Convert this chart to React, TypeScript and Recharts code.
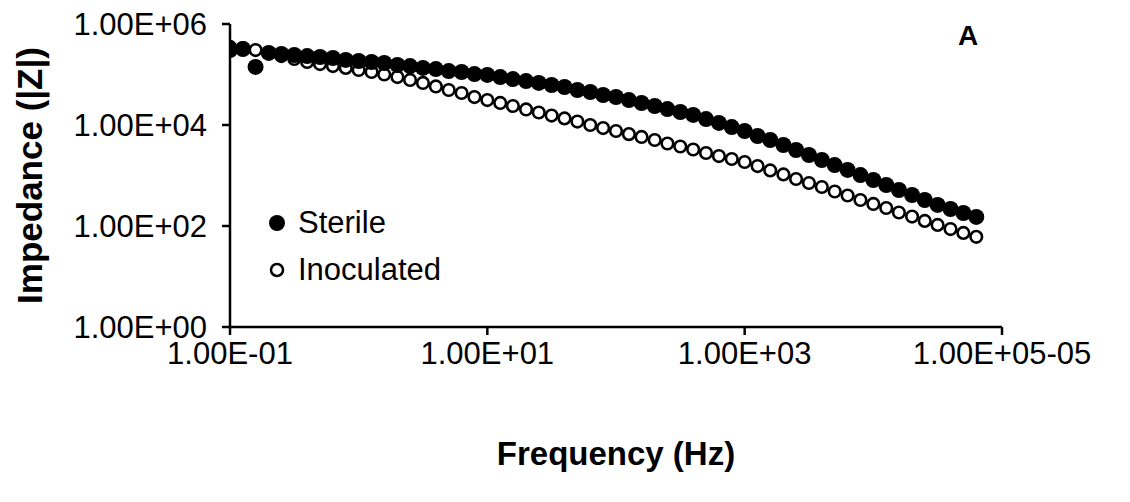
import React from 'react';
import { ScatterChart, Scatter, XAxis, YAxis } from 'recharts';

// frequency sweep, 10 points per decade
const freqHz = [
  0.1, 0.126, 0.158, 0.2, 0.251, 0.316, 0.398, 0.501, 0.631, 0.794,
  1, 1.26, 1.58, 2, 2.51, 3.16, 3.98, 5.01, 6.31, 7.94,
  10, 12.6, 15.8, 20, 25.1, 31.6, 39.8, 50.1, 63.1, 79.4,
  100, 126, 158, 200, 251, 316, 398, 501, 631, 794,
  1000, 1260, 1580, 2000, 2510, 3160, 3980, 5010, 6310, 7940,
  10000, 12600, 15800, 20000, 25100, 31600, 39800, 50100, 63100,
];

const sterileZ = [
  3.05e5, 3.2e5, 1.41e5, 2.67e5, 2.55e5, 2.43e5, 2.32e5, 2.22e5, 2.12e5, 1.94e5,
  1.85e5, 1.77e5, 1.69e5, 1.54e5, 1.47e5, 1.35e5, 1.28e5, 1.17e5, 1.12e5, 1.02e5,
  9.8e4, 8.9e4, 8.1e4, 7.4e4, 6.8e4, 6.2e4, 5.65e4, 4.93e4, 4.5e4, 3.93e4,
  3.58e4, 3.12e4, 2.73e4, 2.38e4, 2.07e4, 1.81e4, 1.58e4, 1.31e4, 1.1e4, 9.1e3,
  7.6e3, 6.05e3, 5.05e3, 4.02e3, 3.2e3, 2.55e3, 2.03e3, 1.61e3, 1.29e3, 1.02e3,
  815, 649, 516, 411, 327, 261, 217, 181, 151,
];

const inoculatedZ = [
  3.51e5, 3.35e5, 3.05e5, 2.67e5, 2.32e5, 2.03e5, 1.77e5, 1.61e5, 1.47e5, 1.35e5,
  1.23e5, 1.12e5, 1.0e5, 8.9e4, 7.8e4, 6.8e4, 5.8e4, 4.93e4, 4.3e4, 3.58e4,
  3.12e4, 2.73e4, 2.38e4, 2.03e4, 1.77e4, 1.54e4, 1.35e4, 1.17e4, 1.0e4, 8.7e3,
  7.6e3, 6.6e3, 5.8e3, 5.05e3, 4.3e3, 3.75e3, 3.27e3, 2.79e3, 2.43e3, 2.12e3,
  1.85e3, 1.54e3, 1.26e3, 1.05e3, 853, 710, 592, 482, 402, 327,
  273, 227, 185, 154, 126, 105, 87, 73, 61,
];

const xTicks = [0.1, 10, 1000, 100000];
const xTickLabels = ['1.00E-01', '1.00E+01', '1.00E+03', '1.00E+05-05'];
const yTicks = [1, 100, 10000, 1000000];
const yTickLabels = ['1.00E+00', '1.00E+02', '1.00E+04', '1.00E+06'];

const sterileData = freqHz.map((f, i) => ({ f, z: sterileZ[i] }));
const inoculatedData = freqHz.map((f, i) => ({ f, z: inoculatedZ[i] }));

const FONT = 'Arial, "Liberation Sans", sans-serif';

const FilledDot = (props: any) => (
  <circle cx={props.cx} cy={props.cy} r={8} fill="#000" />
);

const OpenDot = (props: any) => (
  <circle cx={props.cx} cy={props.cy} r={5.8} fill="#fff" stroke="#000" strokeWidth={2.6} />
);

// legend sits inside the plot, under the curves at low frequency
const LegendBox = () => (
  <div
    style={{
      position: 'absolute',
      left: 268,
      top: 199,
      fontFamily: FONT,
      fontSize: 31,
      color: '#000',
      lineHeight: '47px',
    }}
  >
    <div style={{ display: 'flex', alignItems: 'center' }}>
      <svg width={30} height={20}>
        <circle cx={9} cy={10} r={8} fill="#000" />
      </svg>
      <span>Sterile</span>
    </div>
    <div style={{ display: 'flex', alignItems: 'center' }}>
      <svg width={30} height={20}>
        <circle cx={9} cy={10} r={6} fill="#fff" stroke="#000" strokeWidth={2.5} />
      </svg>
      <span>Inoculated</span>
    </div>
  </div>
);

export default function App() {
  return (
    <div style={{ position: 'absolute', left: 0, top: 0, width: 1130, height: 502, background: '#fff' }}>
      <ScatterChart width={1130} height={502} margin={{ top: 24, right: 128, bottom: 0, left: 0 }}>
        <XAxis
          type="number"
          dataKey="f"
          scale="log"
          domain={[0.1, 100000]}
          ticks={xTicks}
          interval={0}
          allowDataOverflow
          height={175}
          tickSize={8}
          tickMargin={7}
          tickFormatter={(v: number) => xTickLabels[xTicks.indexOf(v)] ?? ''}
          tick={{ fill: '#000', fontSize: 31, fontFamily: FONT }}
          axisLine={{ stroke: '#000', strokeWidth: 2.5 }}
          tickLine={{ stroke: '#000', strokeWidth: 2.5 }}
          label={{
            value: 'Frequency (Hz)',
            position: 'insideBottom',
            offset: 37,
            style: { fill: '#000', fontSize: 33, fontWeight: 'bold', fontFamily: FONT },
          }}
        />
        <YAxis
          type="number"
          dataKey="z"
          scale="log"
          domain={[1, 1000000]}
          ticks={yTicks}
          interval={0}
          allowDataOverflow
          width={230}
          tickSize={8}
          tickMargin={15}
          tickFormatter={(v: number) => yTickLabels[yTicks.indexOf(v)] ?? ''}
          tick={{ fill: '#000', fontSize: 31, fontFamily: FONT }}
          axisLine={{ stroke: '#000', strokeWidth: 2.5 }}
          tickLine={{ stroke: '#000', strokeWidth: 2.5 }}
          label={{
            value: 'Impedance (|Z|)',
            angle: -90,
            position: 'insideLeft',
            offset: 30,
            style: { fill: '#000', fontSize: 35, fontWeight: 'bold', fontFamily: FONT, textAnchor: 'middle' },
          }}
        />
        <Scatter name="Inoculated" data={inoculatedData} shape={OpenDot} isAnimationActive={false} />
        <Scatter name="Sterile" data={sterileData} shape={FilledDot} isAnimationActive={false} />
      </ScatterChart>
      <LegendBox />
      <div
        style={{
          position: 'absolute',
          left: 958,
          top: 20,
          fontFamily: FONT,
          fontWeight: 'bold',
          fontSize: 28,
          color: '#000',
          lineHeight: '32px',
        }}
      >
        A
      </div>
    </div>
  );
}
